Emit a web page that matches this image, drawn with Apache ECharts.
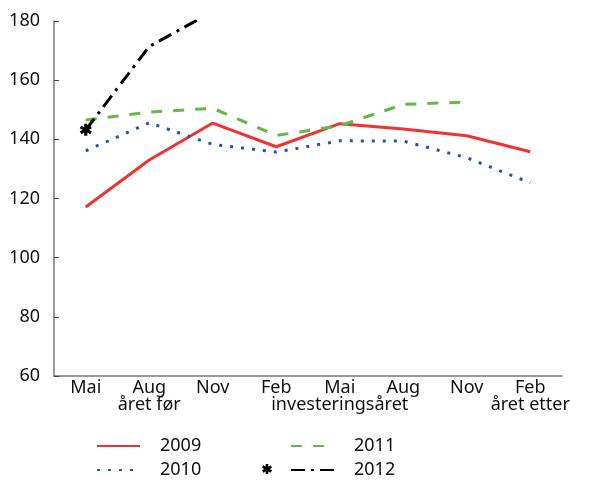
<!DOCTYPE html>
<html>
<head>
<meta charset="utf-8">
<script src="https://cdn.jsdelivr.net/npm/echarts@6/dist/echarts.min.js"></script>
<style>
  html, body { margin: 0; padding: 0; background: #fff; }
  #chart { width: 598px; height: 482px; }
</style>
</head>
<body>
<div id="chart"></div>
<script>
// Quarter labels along the horizontal axis
const categories = ['Mai', 'Aug\nåret før', 'Nov', 'Feb', 'Mai\ninvesteringsåret', 'Aug', 'Nov', 'Feb\nåret etter'];
const yTicks = [60, 80, 100, 120, 140, 160, 180];

// Index values per survey year
const s2009 = [117.1, 133.0, 145.5, 137.5, 145.3, 143.5, 141.2, 135.8];
const s2010 = [136.1, 145.6, 138.3, 135.7, 139.5, 139.4, 133.8, 125.3];
const s2011 = [146.5, 149.2, 150.5, 141.3, 144.6, 151.8, 152.6, null];
const s2012 = [143.2, 171.4, 183.2, null, null, null, null, null];

const FONT = 'Noto Sans';
const FS = 18;
const C_RED = '#ee3431';
const C_BLUE = '#2156a5';
const C_GREEN = '#67b846';

// Six-spoke asterisk: three thin bars crossing at (10,10)
function asteriskBars(len, half) {
  return [90, 30, -30].map(function (deg) {
    const a = deg * Math.PI / 180;
    const dx = Math.cos(a), dy = Math.sin(a);
    const nx = -dy, ny = dx;
    return [
      [-dx * len + nx * half + 10, -dy * len + ny * half + 10],
      [dx * len + nx * half + 10, dy * len + ny * half + 10],
      [dx * len - nx * half + 10, dy * len - ny * half + 10],
      [-dx * len - nx * half + 10, -dy * len - ny * half + 10]
    ];
  });
}
const STAR = 'path://' + asteriskBars(5, 1.3).map(function (p) {
  return 'M' + p.map(function (q) { return q[0].toFixed(2) + ',' + q[1].toFixed(2); }).join('L') + 'Z';
}).join('');

const chart = echarts.init(document.getElementById('chart'));

const axisColor = '#777';

// One legend block per entry, laid out in two columns
function legendEntry(name, left, top) {
  return {
    data: [name],
    orient: 'horizontal',
    left: left, top: top,
    padding: 0,
    itemWidth: 43, itemHeight: 14,
    itemStyle: { opacity: 0 },
    textStyle: { fontSize: FS, color: '#111', fontFamily: FONT, padding: [0, 0, 0, 15] }
  };
}

chart.setOption({
  animation: false,
  backgroundColor: '#fff',
  textStyle: { fontFamily: FONT },
  grid: { left: 54, right: 36, top: 21, bottom: 106 },
  xAxis: [{
    type: 'category',
    data: categories,
    boundaryGap: true,
    axisLine: { lineStyle: { color: axisColor, width: 1.5 } },
    axisTick: { inside: true, length: 3, interval: 0, lineStyle: { color: '#444', width: 1 } },
    axisLabel: { interval: 0, color: '#111', fontSize: FS, fontFamily: FONT, margin: 3, lineHeight: 17 }
  }, {
    // Taller ticks marking the turn of the year
    type: 'category',
    data: categories,
    boundaryGap: true,
    position: 'bottom',
    axisLine: { show: false },
    axisTick: {
      inside: true, length: 8,
      interval: function (i) { return i === 3 || i === 7; },
      lineStyle: { color: '#222', width: 1.5 }
    },
    axisLabel: { show: false }
  }],
  yAxis: {
    type: 'value',
    min: yTicks[0],
    max: yTicks[yTicks.length - 1],
    interval: 20,
    splitLine: { show: false },
    axisLine: { show: true, lineStyle: { color: axisColor, width: 1.5 } },
    axisTick: { show: true, inside: true, length: 5, lineStyle: { color: '#444' } },
    axisLabel: { color: '#111', fontSize: FS, fontFamily: FONT, margin: 14 }
  },
  legend: [
    legendEntry('2009', 96, 437),
    legendEntry('2010', 96, 461),
    legendEntry('2011', 290, 437),
    legendEntry('2012', 290, 461)
  ],
  graphic: [{
    type: 'group',
    x: 257, y: 459,
    silent: true,
    children: asteriskBars(5, 1.3).map(function (p) {
      return { type: 'polygon', shape: { points: p }, style: { fill: '#000' } };
    })
  }],
  series: [{
    name: '2009', type: 'line', data: s2009,
    symbol: 'none',
    lineStyle: { color: C_RED, width: 3 },
    itemStyle: { color: C_RED }
  }, {
    name: '2010', type: 'line', data: s2010,
    symbol: 'none',
    lineStyle: { color: C_BLUE, width: 3, type: [3, 8] },
    itemStyle: { color: C_BLUE }
  }, {
    name: '2011', type: 'line', data: s2011,
    symbol: 'none',
    lineStyle: { color: C_GREEN, width: 3, type: [11, 11] },
    itemStyle: { color: C_GREEN }
  }, {
    name: '2012', type: 'line',
    data: s2012.map(function (v, i) {
      return i === 0 ? { value: v, symbol: STAR, symbolSize: 12 } : v;
    }),
    symbol: 'none',
    clip: true,
    lineStyle: { color: '#000', width: 3, type: [14, 6, 3, 6] },
    itemStyle: { color: '#000' }
  }]
});
</script>
</body>
</html>
